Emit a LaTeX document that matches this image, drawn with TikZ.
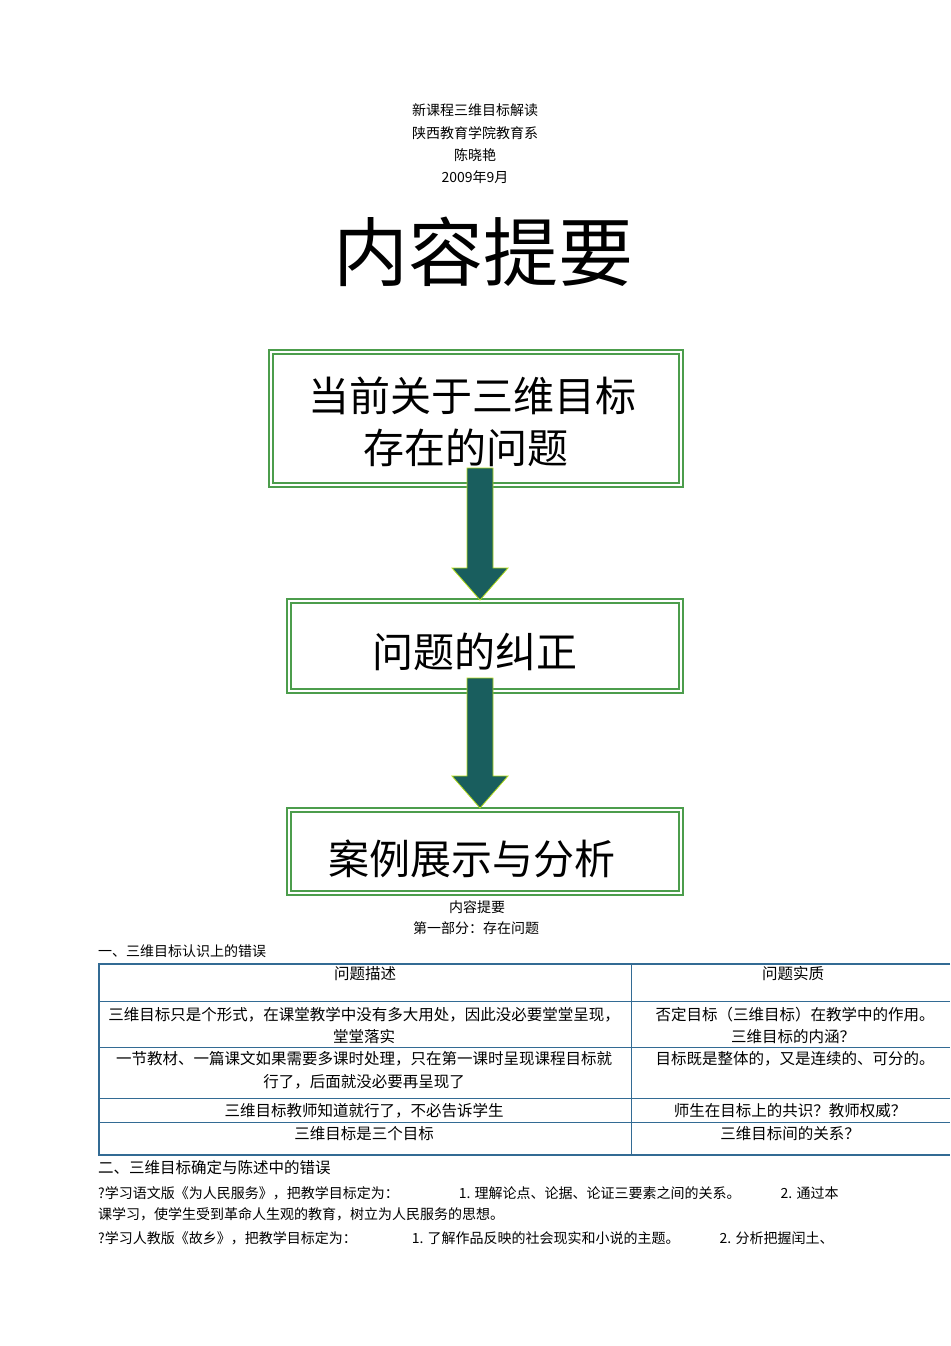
\documentclass[tikz,border=0pt]{standalone}
\usepackage{fontspec}
\setmainfont{Noto Sans CJK SC}
\definecolor{tblue}{rgb}{0.2,0.42,0.58}
\begin{document}
\begin{tikzpicture}[x=1pt,y=-1pt,
  gbox/.style={draw=green!45!black!70,line width=2pt,double=white,double distance=1.5pt},
  arr/.style={fill=teal!60!black!90,draw=yellow!70!green,line width=0.8pt},
  t/.style={font=\fontsize{14}{16}\selectfont,inner sep=0},
  tc/.style={font=\fontsize{15.5}{17}\selectfont,inner sep=0},
  big/.style={font=\fontsize{41}{50}\selectfont,inner sep=0},
  tl/.style={draw=tblue,line width=0.6pt}]
\useasboundingbox (0,0) rectangle (950,1346);
\node[t] (h1) at (475,110) {新课程三维目标解读};
\node[t] (h2) at (475,133) {陕西教育学院教育系};
\node[t] (h3) at (475,155) {陈晓艳};
\node[t] (h4) at (475,177) {2009年9月};
\node[font=\fontsize{75}{85}\selectfont,inner sep=0] (title) at (483,252) {内容提要};
% boxes
\draw[gbox] (271,352) rectangle (681,485);
\draw[gbox] (289,601) rectangle (681,691);
\draw[gbox] (289,810) rectangle (681,893);
% arrows
\draw[arr] (467,468) -- (493,468) -- (493,568) -- (508,568) -- (480,600) -- (452,568) -- (467,568) -- cycle;
\draw[arr] (467,678) -- (493,678) -- (493,776) -- (508,776) -- (480,808) -- (452,776) -- (467,776) -- cycle;
\node[big] (b1a) at (472,396) {当前关于三维目标};
\node[big] (b1b) at (466,448) {存在的问题};
\node[big] (b2) at (475,652) {问题的纠正};
\node[big] (b3) at (472,859) {案例展示与分析};
\node[t] (s1) at (477,907) {内容提要};
\node[t] (s2) at (476,928) {第一部分：存在问题};
\node[t,anchor=west] (s3) at (98,951) {一、三维目标认识上的错误};
% table
\draw[tl] (98,1001) -- (950,1001) (98,1047) -- (950,1047) (98,1098) -- (950,1098) (98,1122) -- (950,1122);
\draw[tl] (631,964) -- (631,1155);
\draw[tblue,line width=2pt] (950,964) -- (99,964) -- (99,1155) -- (950,1155);
\node[tc] (c11) at (365,974) {问题描述};
\node[tc] (c12) at (793,974) {问题实质};
\node[tc] (c21) at (364,1015) {三维目标只是个形式，在课堂教学中没有多大用处，因此没必要堂堂呈现，};
\node[tc] (c21b) at (364,1037) {堂堂落实};
\node[tc] (c22) at (795,1015) {否定目标（三维目标）在教学中的作用。};
\node[tc] (c22b) at (793,1037) {三维目标的内涵？};
\node[tc] (c31) at (364,1059) {一节教材、一篇课文如果需要多课时处理，只在第一课时呈现课程目标就};
\node[tc] (c31b) at (364,1082) {行了，后面就没必要再呈现了};
\node[tc] (c32) at (795,1059) {目标既是整体的，又是连续的、可分的。};
\node[tc] (c41) at (364,1111) {三维目标教师知道就行了，不必告诉学生};
\node[tc] (c42) at (790,1111) {师生在目标上的共识？教师权威？};
\node[tc] (c51) at (364,1134) {三维目标是三个目标};
\node[tc] (c52) at (790,1134) {三维目标间的关系？};
\node[tc,anchor=west] (p0) at (98,1168) {二、三维目标确定与陈述中的错误};
\node[t,anchor=west] (p1) at (98,1193) {?学习语文版《为人民服务》，把教学目标定为：\hspace{60pt}1. 理解论点、论据、论证三要素之间的关系。\hspace{40pt}2. 通过本};
\node[t,anchor=west] (p2) at (98,1214) {课学习，使学生受到革命人生观的教育，树立为人民服务的思想。};
\node[t,anchor=west] (p3) at (98,1238) {?学习人教版《故乡》，把教学目标定为：\hspace{55pt}1. 了解作品反映的社会现实和小说的主题。\hspace{40pt}2. 分析把握闰土、};
\end{tikzpicture}
\end{document}
